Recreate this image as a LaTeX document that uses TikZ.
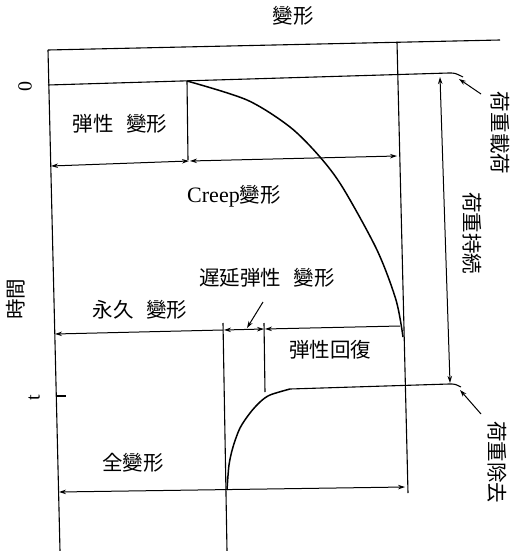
\documentclass[tikz,border=0pt]{standalone}
\usepackage{fontspec}
\setmainfont{Liberation Serif}
\newfontfamily\jp{Noto Sans CJK JP}
\usetikzlibrary{arrows.meta}
\tikzset{
  jptext/.style={font=\jp\fontsize{20.5}{20.5}\selectfont, inner sep=0pt},
  axisline/.style={line width=1.1pt},
  curveline/.style={line width=1.5pt},
  dimarrow/.style={line width=1pt},
  >={Stealth[length=7pt,width=4.5pt]}
}
\begin{document}
\begin{tikzpicture}[x=1pt,y=-1pt]
\useasboundingbox (0,0) rectangle (513,551);
% coordinates
\coordinate (TL) at (48,50);
\coordinate (TR) at (500,40);
\coordinate (LB) at (60,551);
\coordinate (RVt) at (397,42);
\coordinate (RVb) at (408,493);
\coordinate (L0a) at (48,85);
\coordinate (L0b) at (449,73);
\coordinate (L0c) at (463,77);
\coordinate (E0) at (187,81);
\coordinate (E1) at (188,160);
\coordinate (A1l) at (51,166);
\coordinate (A1r) at (189,161);
\coordinate (A2l) at (190,161);
\coordinate (A2r) at (397,156);
\coordinate (Cend) at (403,337);
\coordinate (P3l) at (55,334);
\coordinate (P3r) at (223,330);
\coordinate (D1t) at (223,323);
\coordinate (D1b) at (227,551);
\coordinate (R1t) at (264,323);
\coordinate (R1b) at (265,392);
\coordinate (S1) at (224,330);
\coordinate (S2) at (264,329);
\coordinate (S3) at (265,329);
\coordinate (S4) at (400,326);
\coordinate (Q1) at (263,302);
\coordinate (Q2) at (247,328);
\coordinate (K1) at (57,396);
\coordinate (K2) at (66,396);
\coordinate (U0) at (227,490);
\coordinate (U1) at (290,389);
\coordinate (U2) at (449,384);
\coordinate (U3) at (461,387);
\coordinate (B1) at (59,492);
\coordinate (B2) at (405,487);
\coordinate (H1) at (440,77);
\coordinate (H2) at (450,383);
\coordinate (N1) at (481,94);
\coordinate (N2) at (459,79);
\coordinate (M1) at (481,414);
\coordinate (M2) at (460,390);
% frame
\draw[axisline] (TL) -- (TR);
\draw[axisline] (TL) -- (LB);
\draw[axisline] (RVt) -- (RVb);
% load applied line
\draw[axisline] (L0a) -- (L0b) .. controls (455,73) .. (L0c);
% elastic
\draw[axisline] (E0) -- (E1);
\draw[dimarrow,<->] (A1l) -- (A1r);
\draw[dimarrow,<->] (A2l) -- (A2r);
% creep curve
\draw[curveline] plot[smooth] coordinates {(E0) (247,100) (290,127) (320,157) (343,188) (377,250) (396,300) (Cend)};
% permanent etc.
\draw[dimarrow,->] (P3r) -- (P3l);
\draw[axisline] (D1t) -- (D1b);
\draw[axisline] (R1t) -- (R1b);
\draw[dimarrow,<->] (S1) -- (S2);
\draw[dimarrow,->] (S4) -- (S3);
\draw[dimarrow,->] (Q1) -- (Q2);
\draw[axisline] (K1) -- (K2);
% recovery curve
\draw[curveline] plot[smooth] coordinates {(U0) (229,465) (233,447) (240,428) (250,413) (260,402) (270,395) (U1)};
\draw[axisline] (U1) -- (U2) .. controls (455,384) .. (U3);
% total
\draw[dimarrow,<->] (B1) -- (B2);
% load sustained
\draw[dimarrow,<->] (H1) -- (H2);
\draw[dimarrow,->] (N1) -- (N2);
\draw[dimarrow,->] (M1) -- (M2);
% texts
\node[jptext] (title) at (293,16) {變形};
\node[jptext] (el) at (120,124) {弾性\hspace{0.6em}變形};
\node[inner sep=0pt] (cr) at (234,196) {\fontsize{22}{22}\selectfont Creep\jp\fontsize{20.5}{20.5}\selectfont 變形};
\node[jptext] (de) at (267,278) {遅延弾性\hspace{0.6em}變形};
\node[jptext] (pe) at (140,310) {永久\hspace{0.6em}變形};
\node[jptext] (re) at (330,350) {弾性回復};
\node[jptext] (to) at (133,463) {全變形};
\node[jptext,rotate=-90] (la) at (500,133) {荷重載荷};
\node[jptext,rotate=-90] (ls) at (472,233) {荷重持続};
\node[jptext,rotate=-90] (lr) at (497,462) {荷重除去};
\node[jptext,rotate=90] (time) at (16,299) {時間};
\node[inner sep=0pt,rotate=90,font=\fontsize{20}{20}\selectfont] (zero) at (25,87) {0};
\node[inner sep=0pt,rotate=90,font=\fontsize{20}{20}\selectfont] (tt) at (34,398) {t};
\end{tikzpicture}
\end{document}
